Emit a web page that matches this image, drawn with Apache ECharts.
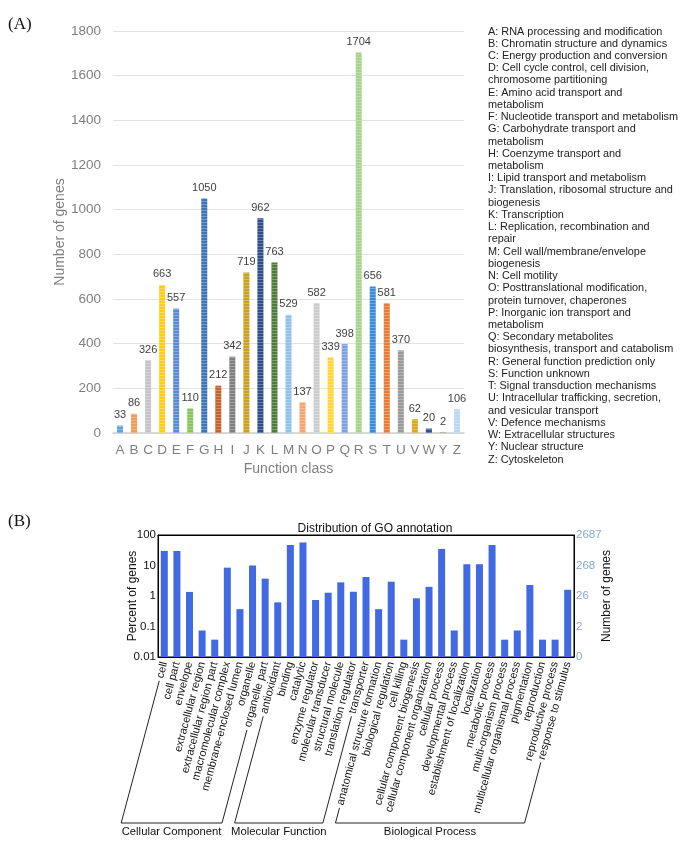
<!DOCTYPE html>
<html><head><meta charset="utf-8">
<script src="https://cdn.jsdelivr.net/npm/echarts@6/dist/echarts.min.js"></script>
<style>html,body{margin:0;padding:0;background:#fff}#c{width:684px;height:849px}</style>
</head><body><div id="c"></div>
<script>
// ---------- Panel A data ----------
const cogClasses = ['A','B','C','D','E','F','G','H','I','J','K','L','M','N','O','P','Q','R','S','T','U','V','W','Y','Z'];
const cogCounts = [33,86,326,663,557,110,1050,212,342,719,962,763,529,137,582,339,398,1704,656,581,370,62,20,2,106];
const cogColors = ['#5ba3e0','#f39a55','#c4c4c4','#ffcc1a','#5a8ad8','#86c45e','#3a76b8','#c8602a','#7f7f7f','#c9a020','#2c4f8c','#4e7d3a','#8ec0ea','#f5a36e','#cccccc','#ffd633','#7b9fe0','#a5d38a','#3a8ad8','#e97c34','#9a9a9a','#d9a81e','#2f4f8f','#5a7d3a','#b8d8f3'];
const cogYTicks = [0,200,400,600,800,1000,1200,1400,1600,1800];
const cogLegendLines = [
 'A: RNA processing and modification',
 'B: Chromatin structure and dynamics',
 'C: Energy production and conversion',
 'D: Cell cycle control, cell division,',
 'chromosome partitioning',
 'E: Amino acid transport and',
 'metabolism',
 'F: Nucleotide transport and metabolism',
 'G: Carbohydrate transport and',
 'metabolism',
 'H: Coenzyme transport and',
 'metabolism',
 'I: Lipid transport and metabolism',
 'J: Translation, ribosomal structure and',
 'biogenesis',
 'K: Transcription',
 'L: Replication, recombination and',
 'repair',
 'M: Cell wall/membrane/envelope',
 'biogenesis',
 'N: Cell motility',
 'O: Posttranslational modification,',
 'protein turnover, chaperones',
 'P: Inorganic ion transport and',
 'metabolism',
 'Q: Secondary metabolites',
 'biosynthesis, transport and catabolism',
 'R: General function prediction only',
 'S: Function unknown',
 'T: Signal transduction mechanisms',
 'U: Intracellular trafficking, secretion,',
 'and vesicular transport',
 'V: Defence mechanisms',
 'W: Extracellular structures',
 'Y: Nuclear structure',
 'Z: Cytoskeleton'
];

// ---------- Panel B data ----------
const goTerms = ['cell','cell part','envelope','extracellular region','extracellular region part','macromolecular complex','membrane-enclosed lumen','organelle','organelle part',
 'antioxidant','binding','catalytic','enzyme regulator','molecular transducer','structural molecule','translation regulator','transporter',
 'anatomical structure formation','biological regulation','cell killing','cellular component biogenesis','cellular component organization','cellular process','developmental process','establishment of localization','localization','metabolic process','multi-organism process','multicellular organismal process','pigmentation','reproduction','reproductive process','response to stimulus'];
const goPercent = [30,30,1.36,0.074,0.037,8.5,0.37,10,3.7,
 0.62,47,57,0.74,1.28,2.8,1.38,4.2,
 0.37,2.95,0.037,0.84,2.0,35,0.074,11,11,47,0.037,0.074,2.3,0.037,0.037,1.6];
const goTotalGenes = 2687;
const goGroups = [
 {name:'Cellular Component', first:0, last:8},
 {name:'Molecular Function', first:9, last:16},
 {name:'Biological Process', first:17, last:32}
];
const goTitle = 'Distribution of GO annotation';

const FONT = '"Liberation Sans", Arial, sans-serif';
const chart = echarts.init(document.getElementById('c'), null, {renderer:'canvas'});

const stripe = {symbol:'rect', symbolSize:1, dashArrayX:[1,0], dashArrayY:[1,1.2], rotation:0, color:'rgba(255,255,255,0.28)'};

const legendGraphics = cogLegendLines.map((t,i)=>({
  type:'text', left:488, top:26 + i*12.23,
  style:{text:t, font:'10.9px '+FONT, fill:'#222'}
}));

const option = {
  animation:false,
  title:[{text:goTitle, left:370, top:518, textAlign:'center',
    textStyle:{fontFamily:FONT, fontSize:12, fontWeight:'normal', color:'#111'}}],
  grid:[
    {left:113, right:220, top:31, bottom:416, containLabel:false},
    {left:158, right:110, top:535, bottom:192, containLabel:false, show:true, borderColor:'#000', borderWidth:1}
  ],
  xAxis:[
    {gridIndex:0, type:'category', data:cogClasses,
     axisLine:{lineStyle:{color:'#d0d0d0', width:1.5}}, axisTick:{show:false},
     axisLabel:{color:'#7f7f7f', fontSize:13.5, fontFamily:FONT, margin:10, interval:0},
     name:'Function class', nameLocation:'middle', nameGap:29, nameMoveOverlap:false,
     nameTextStyle:{color:'#7f7f7f', fontSize:14, fontFamily:FONT}},
    {gridIndex:1, type:'category', data:goTerms,
     axisLine:{lineStyle:{color:'#000'}}, axisTick:{inside:true, length:3, lineStyle:{color:'#000'}, alignWithLabel:true},
     axisLabel:{rotate:75, color:'#111', fontSize:11, fontFamily:FONT, margin:5, interval:0}},
    {gridIndex:1, type:'category', data:goTerms, position:'top',
     axisLine:{lineStyle:{color:'#000'}}, axisTick:{inside:true, length:3, lineStyle:{color:'#000'}, alignWithLabel:true},
     axisLabel:{show:false}}
  ],
  yAxis:[
    {gridIndex:0, type:'value', min:cogYTicks[0], max:cogYTicks[cogYTicks.length-1], interval:cogYTicks[1]-cogYTicks[0],
     axisLine:{show:false}, axisTick:{show:false},
     splitLine:{lineStyle:{color:'#e3e3e3'}},
     axisLabel:{color:'#7f7f7f', fontSize:13.5, fontFamily:FONT, margin:12, formatter:v=>String(v)},
     name:'Number of genes', nameLocation:'middle', nameGap:46, nameRotate:90, nameMoveOverlap:false,
     nameTextStyle:{color:'#7f7f7f', fontSize:14, fontFamily:FONT}},
    {gridIndex:1, type:'log', logBase:10, min:0.01, max:100, startValue:0.01,
     axisLine:{show:true, lineStyle:{color:'#000'}}, axisTick:{inside:true, length:4, lineStyle:{color:'#000'}},
     splitLine:{show:false},
     axisLabel:{color:'#111', fontSize:11.5, fontFamily:FONT, margin:2,
       formatter:v=>String(parseFloat(Number(v).toPrecision(6)))},
     name:'Percent of genes', nameLocation:'middle', nameGap:19, nameRotate:90, nameMoveOverlap:false,
     nameTextStyle:{color:'#111', fontSize:12, fontFamily:FONT}},
    {gridIndex:1, type:'log', logBase:10, min:0.01, max:100, position:'right',
     axisLine:{show:true, lineStyle:{color:'#000'}}, axisTick:{inside:true, length:4, lineStyle:{color:'#000'}},
     splitLine:{show:false},
     axisLabel:{color:'#86a8d8', fontSize:11.5, fontFamily:FONT, margin:2,
       formatter:v=>String(Math.floor(Number(v)*goTotalGenes/100+1e-9))},
     name:'Number of genes', nameLocation:'middle', nameGap:27, nameRotate:90, nameMoveOverlap:false,
     nameTextStyle:{color:'#111', fontSize:12, fontFamily:FONT}}
  ],
  series:[
    {type:'bar', xAxisIndex:0, yAxisIndex:0, barWidth:6,
     data:cogCounts.map((v,i)=>({value:v, itemStyle:{color:cogColors[i], decal:stripe}})),
     label:{show:true, position:'top', distance:5, color:'#404040', fontSize:11, fontFamily:FONT}},
    {type:'bar', xAxisIndex:1, yAxisIndex:1, barWidth:7,
     data:goPercent, itemStyle:{color:'#4169e1'}}
  ],
  graphic:[
    {type:'text', left:8, top:16, style:{text:'(A)', font:'17px "Liberation Serif", "Times New Roman", serif', fill:'#111'}},
    {type:'text', left:8, top:513, style:{text:'(B)', font:'17px "Liberation Serif", "Times New Roman", serif', fill:'#111'}}
  ].concat(legendGraphics)
};
chart.setOption(option);

// ---------- group brackets under GO labels ----------
(function(){
  const ctx = document.createElement('canvas').getContext('2d');
  ctx.font = '11px ' + FONT;
  const ang = 75*Math.PI/180, cx = Math.cos(ang), sy = Math.sin(ang);
  const y0 = chart.convertToPixel({yAxisIndex:1}, 0.01);
  const margin = 5, gap = 3, bottomY = y0 + 166;
  function startOf(idx){
    const x = chart.convertToPixel({xAxisIndex:1}, goTerms[idx]);
    const w = ctx.measureText(goTerms[idx]).width + gap;
    return [x - w*cx, y0 + margin + w*sy];
  }
  function toBottom(p){ const t = (bottomY - p[1])/sy; return [p[0] - t*cx, bottomY]; }
  const g = [];
  goGroups.forEach(gr=>{
    const a = startOf(gr.first), b = startOf(gr.last);
    const ab = toBottom(a), bb = toBottom(b);
    g.push({type:'polyline', shape:{points:[a, ab, bb, b]}, style:{stroke:'#222', lineWidth:1, fill:null}, silent:true});
    g.push({type:'text', x:(ab[0]+bb[0])/2, y:bottomY+3,
      style:{text:gr.name, font:'11.3px '+FONT, fill:'#111', align:'center', verticalAlign:'top'}});
  });
  chart.setOption({graphic: option.graphic.concat(g)});
})();
</script></body></html>
